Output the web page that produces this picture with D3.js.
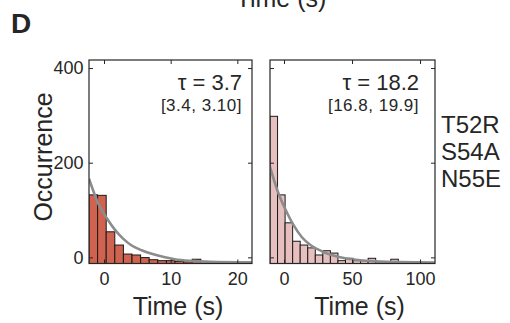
<!DOCTYPE html>
<html>
<head>
<meta charset="utf-8">
<script src="https://cdn.jsdelivr.net/npm/d3@7"></script>
<style>
  body { margin: 0; background: #fff; }
  text { font-family: "Liberation Sans", Arial, Helvetica, sans-serif; fill: #262626; }
</style>
</head>
<body>
<script>
// histogram counts per bin (relative to the shared y axis)
const leftCounts = [132, 131, 54, 26, 7, 5, -0.5, -5, -7, -7, -8.5, -9.5, -4, null, -9, null, null, null, null];
const rightCounts = [298, 132, 73, 34, 26, 20, 5, 14, 9, -7, -2, -7, -7, -2, -9.5, -9.5, -4, null, null, null, null, null];
const leftBins = [-2.25, 1.29];   // first edge, bin width (s)
const rightBins = [-10.3, 5.55];

// exponential fit curves
const leftFitX = [-2.25, -0.9, 0.4, 1.65, 2.9, 4.15, 5.65, 7.15, 9.15, 10.6, 12.9, 15.9, 22.2];
const leftFitY = [166, 115, 83, 58, 39, 25, 15, 7.5, 0, -4, -7.5, -9.5, -10.5];
const rightFitX = [-10.3, -4.2, 1.25, 6.8, 13, 19.9, 27.7, 35, 44.9, 55.9, 70.6, 85, 111];
const rightFitY = [191, 136, 100, 69, 43, 25, 13, 5, -2, -6, -9, -10, -11];

const leftXTicks = [0, 10, 20];
const rightXTicks = [0, 50, 100];
const yTicks = [0, 200, 400];
const tauLabels = ['\u03c4 = 3.7', '\u03c4 = 18.2'];
const ciLabels = ['[3.4, 3.10]', '[16.8, 19.9]'];
const mutations = ['T52R', 'S54A', 'N55E'];

const W = 510, H = 323;
const TOP = 60, BOTTOM = 263.5;
const yDomain = [-13, 417];

const svg = d3.select('body').append('svg')
  .attr('width', W)
  .attr('height', H);

svg.append('rect').attr('width', W).attr('height', H).attr('fill', '#fff');

// panel letter and clipped label of the panel above
svg.append('text').attr('x', 11).attr('y', 33)
  .style('font-size', '28px').style('font-weight', 'bold').text('D');
svg.append('text').attr('x', 281).attr('y', 7)
  .attr('text-anchor', 'middle').style('font-size', '25px').text('Time (s)');

// y label
svg.append('text')
  .attr('transform', 'translate(52,157)rotate(-90)')
  .attr('text-anchor', 'middle')
  .style('font-size', '25px')
  .text('Occurrence');

const panels = [
  { left: 89, right: 252, xDomain: [-2.25, 22.2], counts: leftCounts, bins: leftBins,
    fx: leftFitX, fy: leftFitY, xTicks: leftXTicks, fill: '#d0634f', yLabels: true,
    tauX: 242, labelX: 178 },
  { left: 270, right: 435, xDomain: [-10.3, 111], counts: rightCounts, bins: rightBins,
    fx: rightFitX, fy: rightFitY, xTicks: rightXTicks, fill: '#e8bfbf', yLabels: false,
    tauX: 419, labelX: 359.5 }
];

panels.forEach((p, pi) => {
  let x = d3.scaleLinear().domain(p.xDomain).range([p.left, p.right]);
  let y = d3.scaleLinear().domain(yDomain).range([BOTTOM, TOP]);
  let g = svg.append('g');

  let clipId = 'clip' + pi;
  svg.append('clipPath').attr('id', clipId)
    .append('rect')
      .attr('x', p.left).attr('y', TOP)
      .attr('width', p.right - p.left).attr('height', BOTTOM - TOP);

  // bars
  g.append('g').attr('clip-path', `url(#${clipId})`)
    .selectAll('rect')
    .data(p.counts.map((c, i) => ({ c, i })).filter(d => d.c !== null))
    .enter()
    .append('rect')
      .attr('x', d => x(p.bins[0] + d.i * p.bins[1]))
      .attr('width', d => x(p.bins[0] + (d.i + 1) * p.bins[1]) - x(p.bins[0] + d.i * p.bins[1]))
      .attr('y', d => y(d.c))
      .attr('height', d => y(yDomain[0]) - y(d.c))
      .attr('fill', p.fill)
      .attr('stroke', '#1a1a1a')
      .attr('stroke-width', 1);

  // fit curve
  let line = d3.line()
    .x(d => x(d[0]))
    .y(d => y(d[1]))
    .curve(d3.curveMonotoneX);
  g.append('path')
    .attr('clip-path', `url(#${clipId})`)
    .datum(p.fx.map((v, i) => [v, p.fy[i]]))
    .attr('d', line)
    .attr('fill', 'none')
    .attr('stroke', '#8c8c8c')
    .attr('stroke-width', 2.6);

  // axes, ticks pointing inward on all four sides
  let bottomAxis = d3.axisBottom(x).tickValues(p.xTicks).tickSizeInner(-4).tickSizeOuter(0).tickPadding(8.5);
  let topAxis = d3.axisTop(x).tickValues(p.xTicks).tickSizeInner(-4).tickSizeOuter(0).tickFormat('');
  let leftAxis = d3.axisLeft(y).tickValues(yTicks).tickSizeInner(-4).tickSizeOuter(0).tickPadding(5.5);
  let rightAxis = d3.axisRight(y).tickValues(yTicks).tickSizeInner(-4).tickSizeOuter(0).tickFormat('');
  if (!p.yLabels) leftAxis.tickFormat('');

  let axes = [
    [bottomAxis, `translate(0,${BOTTOM})`],
    [topAxis, `translate(0,${TOP})`],
    [leftAxis, `translate(${p.left},0)`],
    [rightAxis, `translate(${p.right},0)`]
  ];
  axes.forEach(([ax, tr]) => {
    let a = g.append('g').attr('transform', tr).call(ax);
    a.select('.domain').remove();
    a.selectAll('line').attr('stroke', '#262626');
    a.selectAll('text')
      .style('font-size', '18px')
      .style('font-family', '"Liberation Sans", Arial, sans-serif')
      .attr('fill', '#262626');
  });

  // frame
  g.append('rect')
    .attr('x', p.left).attr('y', TOP)
    .attr('width', p.right - p.left).attr('height', BOTTOM - TOP)
    .attr('fill', 'none')
    .attr('stroke', '#262626')
    .attr('stroke-width', 1.2);

  // fit annotation
  g.append('text').attr('x', p.tauX).attr('y', 90)
    .attr('text-anchor', 'end').style('font-size', '22px').text(tauLabels[pi]);
  g.append('text').attr('x', p.tauX).attr('y', 110.5)
    .attr('text-anchor', 'end').style('font-size', '17px').style('letter-spacing', '0.5px')
    .text(ciLabels[pi]);

  // x label
  g.append('text').attr('x', p.labelX).attr('y', 315)
    .attr('text-anchor', 'middle').style('font-size', '25px').text('Time (s)');
});

// mutation labels
svg.append('g').selectAll('text')
  .data(mutations)
  .enter()
  .append('text')
    .attr('x', 441)
    .attr('y', (d, i) => 133 + i * 27)
    .style('font-size', '24px')
    .text(d => d);
</script>
</body>
</html>
